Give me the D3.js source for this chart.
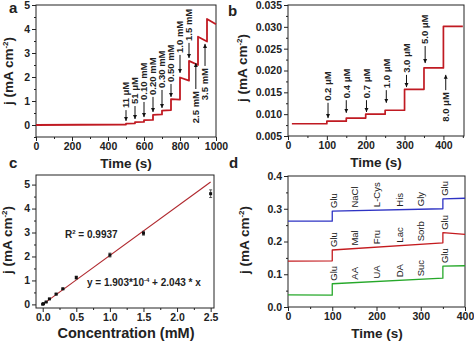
<!DOCTYPE html>
<html>
<head>
<meta charset="utf-8">
<script src="https://cdn.jsdelivr.net/npm/d3@7"></script>
<style>
  body { margin: 0; background: #fff; }
  text { font-family: "Liberation Sans", Arial, sans-serif; fill: #222; }
</style>
</head>
<body>
<div id="vis"></div>
<script>
const FRAME_WIDTH = 474;
const FRAME_HEIGHT = 342;

// ---- panel a: response to successive additions (0 - 1000 s)
const stepTimesA = [0, 500, 550, 600, 650, 700, 750, 800, 850, 900, 950];
const levelStartA = [0.00, 0.06, 0.12, 0.20, 0.42, 0.60, 1.08, 1.98, 2.67, 3.68, 4.42];
const levelEndA = [0.02, 0.07, 0.13, 0.21, 0.44, 0.62, 1.06, 1.85, 2.50, 3.48, 4.20];
const endTimeA = 1000;
const addLabelsA = ["11 μM", "51 μM", "0.10 mM", "0.20 mM", "0.30 mM", "0.50 mM",
                    "1.0 mM", "1.5 mM", "2.5 mM", "3.5 mM"];
const addTimesA = [500, 550, 600, 650, 700, 750, 800, 850, 888, 939];
const arrowTipA = [0.17, 0.25, 0.33, 0.54, 0.71, 1.17, 2.17, 2.79, 2.58, 3.38];
const arrowTailA = [0.62, 0.79, 0.96, 1.17, 1.46, 1.71, 2.92, 3.42, 1.50, 2.46];
const xTicksA = [0, 200, 400, 600, 800, 1000];
const yTicksA = [0, 1, 2, 3, 4, 5];

// ---- panel b: low concentration additions
const stepTimesB = [10, 100, 150, 200, 250, 300, 350, 400];
const levelsB = [0.0078, 0.0084, 0.0091, 0.0100, 0.0109, 0.0157, 0.0206, 0.0301];
const endTimeB = 450;
const addLabelsB = ["0.2 μM", "0.4 μM", "0.7 μM", "1.0 μM", "3.0 μM", "5.0 μM", "8.0 μM"];
const addTimesB = [103, 150, 202, 253, 305, 353, 406];
const arrowTipB = [0.0091, 0.0103, 0.0105, 0.0126, 0.0162, 0.0217, 0.0190];
const arrowTailB = [0.0126, 0.0132, 0.0132, 0.0155, 0.0190, 0.0256, 0.0155];
const xTicksB = [0, 100, 200, 300, 400];
const yTicksB = [0.005, 0.010, 0.015, 0.020, 0.025, 0.030, 0.035];

// ---- panel c: calibration
const concC = [0, 0.011, 0.051, 0.10, 0.20, 0.30, 0.50, 1.0, 1.5, 2.5];
const currentC = [0.01, 0.03, 0.10, 0.23, 0.43, 0.65, 1.12, 2.06, 2.97, 4.62];
const errC = [0.02, 0.02, 0.02, 0.02, 0.03, 0.03, 0.06, 0.08, 0.08, 0.16];
const fitIntercept = 1.903e-4;
const fitSlope = 2.043;
const fitRangeC = [0, 2.5];
const xTicksC = [0, 0.5, 1.0, 1.5, 2.0, 2.5];
const yTicksC = [0, 1, 2, 3, 4, 5];

// ---- panel d: interference test, three electrodes
const stepTimesD = [0, 100, 350];
const endTimeD = 400;
const blueStart = [0.262, 0.293, 0.330];
const blueEnd = [0.262, 0.300, 0.332];
const redStart = [0.140, 0.174, 0.227];
const redEnd = [0.141, 0.196, 0.222];
const greenStart = [0.037, 0.071, 0.125];
const greenEnd = [0.036, 0.088, 0.126];
const labelTimesD = [104, 150, 200, 252, 300, 354];
const blueLabels = ["Glu", "NaCl", "L-Cys", "His", "Gly", "Glu"];
const redLabels = ["Glu", "Mal", "Fru", "Lac", "Sorb", "Glu"];
const greenLabels = ["Glu", "AA", "UA", "DA", "Suc", "Glu"];
const xTicksD = [0, 100, 200, 300, 400];
const yTicksD = [0.0, 0.1, 0.2, 0.3, 0.4];

const INK = "#222";
const TRACE_RED = "#c01a22";

const svg = d3.select("#vis")
  .append("svg")
    .attr("width", FRAME_WIDTH)
    .attr("height", FRAME_HEIGHT);

svg.append("defs").append("marker")
    .attr("id", "head")
    .attr("viewBox", "0 0 10 10")
    .attr("refX", 10).attr("refY", 5)
    .attr("markerWidth", 4).attr("markerHeight", 5)
    .attr("markerUnits", "userSpaceOnUse")
    .attr("orient", "auto")
  .append("path")
    .attr("d", "M0,0 L10,5 L0,10 z")
    .attr("fill", "#111");

// builds frame, major and minor ticks, returns the scales
function makePanel(box, xDom, yDom, xTicks, yTicks, xMinor, yMinor, xFmt, yFmt) {
  const x = d3.scaleLinear().domain(xDom).range([box.left, box.right]);
  const y = d3.scaleLinear().domain(yDom).range([box.bottom, box.top]);
  const g = svg.append("g");

  const bottom = (vals, size, fmt) => d3.axisBottom(x).tickValues(vals)
      .tickSize(size).tickPadding(2).tickFormat(fmt);
  const left = (vals, size, fmt) => d3.axisLeft(y).tickValues(vals)
      .tickSize(size).tickPadding(2).tickFormat(fmt);

  [[bottom(xTicks, 4, xFmt), "translate(0," + box.bottom + ")"],
   [bottom(xMinor, 2, ""), "translate(0," + box.bottom + ")"],
   [left(yTicks, 4, yFmt), "translate(" + box.left + ",0)"],
   [left(yMinor, 2, ""), "translate(" + box.left + ",0)"]]
    .forEach(([ax, tr]) => {
      const a = g.append("g").attr("transform", tr).call(ax);
      a.select(".domain").remove();
      a.selectAll("line").attr("stroke", INK);
      a.selectAll("text")
        .attr("font-size", "10.5px")
        .attr("font-weight", "bold")
        .attr("fill", INK);
    });

  g.append("rect")
    .attr("x", box.left).attr("y", box.top)
    .attr("width", box.right - box.left)
    .attr("height", box.bottom - box.top)
    .attr("fill", "none")
    .attr("stroke", INK)
    .attr("stroke-width", 1);

  return {x, y};
}

function yTitle(cx, cy) {
  const t = svg.append("text")
    .attr("transform", "translate(" + cx + "," + cy + ") rotate(-90)")
    .attr("text-anchor", "middle")
    .attr("dy", "0.35em")
    .attr("font-size", "13.5px")
    .attr("font-weight", "bold");
  t.append("tspan").text("j (mA cm");
  t.append("tspan").attr("font-size", "8px").attr("dy", "-5").text("-2");
  t.append("tspan").attr("dy", "5").text(")");
}

function xTitle(cx, base, label, size) {
  svg.append("text")
    .attr("x", cx).attr("y", base)
    .attr("text-anchor", "middle")
    .attr("font-size", size)
    .attr("font-weight", "bold")
    .text(label);
}

function panelLetter(x, y, s) {
  svg.append("text")
    .attr("x", x).attr("y", y)
    .attr("font-size", "15px")
    .attr("font-weight", "bold")
    .text(s);
}

// step trace: each plateau drifts from its start level to its end level
function stepPoints(times, starts, ends, endTime) {
  const pts = [];
  times.forEach((t, i) => {
    const next = i < times.length - 1 ? times[i + 1] : endTime;
    pts.push([t, starts[i]], [next, ends[i]]);
  });
  return pts;
}

function drawTrace(sc, pts, color, width) {
  svg.append("path")
    .datum(pts)
    .attr("fill", "none")
    .attr("stroke", color)
    .attr("stroke-width", width)
    .attr("stroke-linejoin", "round")
    .attr("d", d3.line().x(d => sc.x(d[0])).y(d => sc.y(d[1])));
}

// arrow from tail to tip, rotated label beyond the tail
function drawAdditions(sc, times, labels, tips, tails) {
  times.forEach((t, i) => {
    const xp = sc.x(t);
    const down = tips[i] < tails[i];
    svg.append("line")
      .attr("x1", xp).attr("x2", xp)
      .attr("y1", sc.y(tails[i])).attr("y2", sc.y(tips[i]))
      .attr("stroke", "#111")
      .attr("stroke-width", 1)
      .attr("marker-end", "url(#head)");
    const yp = sc.y(tails[i]) + (down ? -2 : 2);
    svg.append("text")
      .attr("transform", "translate(" + xp + "," + yp + ") rotate(-90)")
      .attr("text-anchor", down ? "start" : "end")
      .attr("dy", "0.35em")
      .attr("font-family", "'Liberation Serif', 'Times New Roman', serif")
      .attr("font-weight", "bold")
      .attr("font-size", "9.5px")
      .attr("fill", "#111")
      .text(labels[i]);
  });
}

// ---------------- panel a
const scA = makePanel({left: 36, right: 216, top: 5, bottom: 137},
  [0, 1000], [-0.5, 5], xTicksA, yTicksA,
  d3.range(100, 1000, 200), d3.range(-0.5, 5, 1),
  d3.format("d"), d3.format("d"));
drawTrace(scA, stepPoints(stepTimesA, levelStartA, levelEndA, endTimeA), TRACE_RED, 1.8);
drawAdditions(scA, addTimesA, addLabelsA, arrowTipA, arrowTailA);
yTitle(8, 71);
xTitle(126, 168, "Time (s)", "13.5px");
panelLetter(9, 13, "a");

// ---------------- panel b
const scB = makePanel({left: 288, right: 464, top: 5, bottom: 136},
  [0, 453], [0.005, 0.035], xTicksB, yTicksB,
  d3.range(50, 453, 100), d3.range(0.0075, 0.035, 0.005),
  d3.format("d"), d3.format(".3f"));
drawTrace(scB, stepPoints(stepTimesB, levelsB, levelsB, endTimeB), TRACE_RED, 1.7);
drawAdditions(scB, addTimesB, addLabelsB, arrowTipB, arrowTailB);
yTitle(242, 68);
xTitle(376, 167, "Time (s)", "13.5px");
panelLetter(228, 16, "b");

// ---------------- panel c
const scC = makePanel({left: 36, right: 214, top: 175, bottom: 308},
  [-0.1, 2.55], [-0.15, 5.4], xTicksC, yTicksC,
  d3.range(0.25, 2.5, 0.5), d3.range(0.5, 5.4, 1),
  d3.format(".1f"), d3.format("d"));

svg.append("line")
  .attr("x1", scC.x(fitRangeC[0])).attr("y1", scC.y(fitIntercept + fitSlope * fitRangeC[0]))
  .attr("x2", scC.x(fitRangeC[1])).attr("y2", scC.y(fitIntercept + fitSlope * fitRangeC[1]))
  .attr("stroke", "#b0282e")
  .attr("stroke-width", 1.1);

const pointsC = concC.map((c, i) => ({c, j: currentC[i], e: errC[i]}));
const errG = svg.append("g").attr("stroke", "#333").attr("stroke-width", 0.8);
errG.selectAll("line.bar").data(pointsC).enter().append("line")
  .attr("x1", d => scC.x(d.c)).attr("x2", d => scC.x(d.c))
  .attr("y1", d => scC.y(d.j - d.e)).attr("y2", d => scC.y(d.j + d.e));
errG.selectAll("line.cap").data(pointsC.flatMap(d => [d.j - d.e, d.j + d.e].map(v => ({c: d.c, v}))))
  .enter().append("line")
  .attr("x1", d => scC.x(d.c) - 1.5).attr("x2", d => scC.x(d.c) + 1.5)
  .attr("y1", d => scC.y(d.v)).attr("y2", d => scC.y(d.v));
svg.selectAll("rect.pt").data(pointsC).enter().append("rect")
  .attr("x", d => scC.x(d.c) - 1.5).attr("y", d => scC.y(d.j) - 1.5)
  .attr("width", 3).attr("height", 3)
  .attr("fill", "#111");

const r2 = svg.append("text")
  .attr("x", 65).attr("y", 238)
  .attr("font-size", "10px").attr("font-weight", "bold");
r2.append("tspan").text("R");
r2.append("tspan").attr("font-size", "6px").attr("dy", "-4").text("2");
r2.append("tspan").attr("dy", "4").text(" = 0.9937");

const eq = svg.append("text")
  .attr("x", 87).attr("y", 286)
  .attr("font-size", "10px").attr("font-weight", "bold");
eq.append("tspan").text("y = 1.903*10");
eq.append("tspan").attr("font-size", "6px").attr("dy", "-4").text("-4");
eq.append("tspan").attr("dy", "4").text(" + 2.043 * x");

yTitle(7, 240);
xTitle(126, 338, "Concentration (mM)", "14.5px");
panelLetter(9, 168, "c");

// ---------------- panel d
const scD = makePanel({left: 288, right: 465, top: 176, bottom: 307},
  [0, 400], [0, 0.4], xTicksD, yTicksD,
  d3.range(50, 400, 100), d3.range(0.05, 0.4, 0.1),
  d3.format("d"), d3.format(".1f"));

const seriesD = [
  {color: "#2e33c4", start: blueStart, end: blueEnd, labels: blueLabels},
  {color: "#c41a1e", start: redStart, end: redEnd, labels: redLabels},
  {color: "#26a82a", start: greenStart, end: greenEnd, labels: greenLabels}
];

seriesD.forEach(s => {
  const pts = stepPoints(stepTimesD, s.start, s.end, endTimeD);
  drawTrace(scD, pts, s.color, 1.3);
  // label sits just above the trace level at its time
  const levelAt = t => {
    for (let i = 0; i < pts.length; i += 2) {
      const a = pts[i], b = pts[i + 1];
      if (t >= a[0] && t <= b[0]) return a[1] + (b[1] - a[1]) * (t - a[0]) / (b[0] - a[0]);
    }
    return pts[pts.length - 1][1];
  };
  labelTimesD.forEach((t, i) => {
    svg.append("text")
      .attr("transform", "translate(" + scD.x(t) + "," + (scD.y(levelAt(t)) - 3) + ") rotate(-90)")
      .attr("text-anchor", "start")
      .attr("dy", "0.35em")
      .attr("font-size", "9.5px")
      .attr("fill", "#111")
      .text(s.labels[i]);
  });
});

yTitle(244, 240);
xTitle(377, 338, "Time (s)", "13.5px");
panelLetter(229, 168, "d");
</script>
</body>
</html>
